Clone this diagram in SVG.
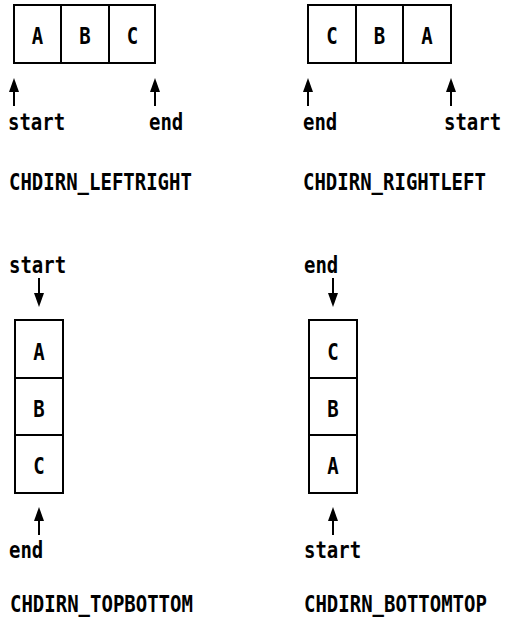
<svg xmlns="http://www.w3.org/2000/svg" width="505" height="621" viewBox="0 0 505 621">
  <style>
    .cell { fill: #fff; stroke: #000; stroke-width: 2; }
    .t { font-family: "DejaVu Sans Mono", "Liberation Mono", monospace; font-size: 19px; font-weight: bold; fill: #000; }
    .c { text-anchor: middle; }
    .arrow { stroke: #000; stroke-width: 2; fill: none; marker-end: url(#head); }
  </style>
  <defs>
    <marker id="head" viewBox="0 0 14 10" refX="10" refY="5" markerWidth="14" markerHeight="10" markerUnits="userSpaceOnUse" orient="auto">
      <path d="M0,0 L14,5 L0,10 Z" fill="#000"/>
    </marker>
  </defs>
  <rect width="505" height="621" fill="#fff"/>

  <!-- left to right -->
  <g id="lr-a"><rect class="cell" x="14" y="5" width="47" height="58"/><text class="t c" transform="translate(37.5,44) scale(1,1.18)">A</text></g>
  <g id="lr-b"><rect class="cell" x="61" y="5" width="48" height="58"/><text class="t c" transform="translate(85,44) scale(1,1.18)">B</text></g>
  <g id="lr-c"><rect class="cell" x="109" y="5" width="46" height="58"/><text class="t c" transform="translate(132.5,44) scale(1,1.18)">C</text></g>
  <g id="lr-labels">
    <text class="t" transform="translate(8,130) scale(1,1.18)">start</text>
    <text class="t" transform="translate(149,130) scale(1,1.18)">end</text>
    <text class="t" transform="translate(9,190) scale(1,1.18)">CHDIRN_LEFTRIGHT</text>
  </g>

  <!-- right to left -->
  <g id="rl-c"><rect class="cell" x="308" y="5" width="48" height="58"/><text class="t c" transform="translate(332,44) scale(1,1.18)">C</text></g>
  <g id="rl-b"><rect class="cell" x="356" y="5" width="47" height="58"/><text class="t c" transform="translate(379.5,44) scale(1,1.18)">B</text></g>
  <g id="rl-a"><rect class="cell" x="403" y="5" width="48" height="58"/><text class="t c" transform="translate(427,44) scale(1,1.18)">A</text></g>
  <g id="rl-labels">
    <text class="t" transform="translate(303,130) scale(1,1.18)">end</text>
    <text class="t" transform="translate(444,130) scale(1,1.18)">start</text>
    <text class="t" transform="translate(303,190) scale(1,1.18)">CHDIRN_RIGHTLEFT</text>
  </g>

  <!-- top to bottom -->
  <g id="tb-labels-top"><text class="t" transform="translate(9,273) scale(1,1.18)">start</text></g>
  <g id="tb-a"><rect class="cell" x="15" y="320" width="48" height="58"/><text class="t c" transform="translate(39,360) scale(1,1.18)">A</text></g>
  <g id="tb-b"><rect class="cell" x="15" y="378" width="48" height="57"/><text class="t c" transform="translate(39,417) scale(1,1.18)">B</text></g>
  <g id="tb-c"><rect class="cell" x="15" y="435" width="48" height="58"/><text class="t c" transform="translate(39,474) scale(1,1.18)">C</text></g>
  <g id="tb-labels">
    <text class="t" transform="translate(9,558) scale(1,1.18)">end</text>
    <text class="t" transform="translate(10,612) scale(1,1.18)">CHDIRN_TOPBOTTOM</text>
  </g>

  <!-- bottom to top -->
  <g id="bt-labels-top"><text class="t" transform="translate(304,273) scale(1,1.18)">end</text></g>
  <g id="bt-c"><rect class="cell" x="309" y="320" width="48" height="58"/><text class="t c" transform="translate(333,360) scale(1,1.18)">C</text></g>
  <g id="bt-b"><rect class="cell" x="309" y="378" width="48" height="57"/><text class="t c" transform="translate(333,417) scale(1,1.18)">B</text></g>
  <g id="bt-a"><rect class="cell" x="309" y="435" width="48" height="58"/><text class="t c" transform="translate(333,474) scale(1,1.18)">A</text></g>
  <g id="bt-labels">
    <text class="t" transform="translate(304,558) scale(1,1.18)">start</text>
    <text class="t" transform="translate(304,612) scale(1,1.18)">CHDIRN_BOTTOMTOP</text>
  </g>

  <!-- pointers -->
  <g id="connectors">
    <line class="arrow" x1="14" y1="106" x2="14" y2="82"/>
    <line class="arrow" x1="155" y1="106" x2="155" y2="82"/>
    <line class="arrow" x1="308" y1="106" x2="308" y2="82"/>
    <line class="arrow" x1="451" y1="106" x2="451" y2="82"/>
    <line class="arrow" x1="39" y1="278" x2="39" y2="303"/>
    <line class="arrow" x1="333" y1="278" x2="333" y2="303"/>
    <line class="arrow" x1="39" y1="535" x2="39" y2="511"/>
    <line class="arrow" x1="333" y1="535" x2="333" y2="511"/>
  </g>
</svg>
